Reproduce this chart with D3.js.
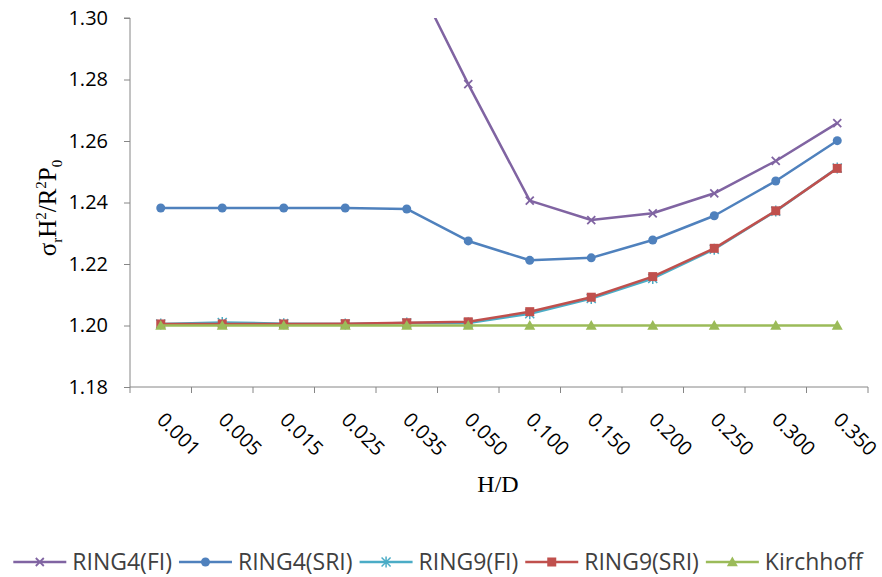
<!DOCTYPE html>
<html>
<head>
<meta charset="utf-8">
<script src="https://cdn.jsdelivr.net/npm/d3@7"></script>
<style>
  html, body { margin: 0; padding: 0; background: #fff; }
  svg { display: block; }
</style>
</head>
<body>
<svg id="chart" width="882" height="577"></svg>
<script>
const categories = ["0.001","0.005","0.015","0.025","0.035","0.050","0.100","0.150","0.200","0.250","0.300","0.350"];
const ring4FI   = [1.420, 1.390, 1.360, 1.340, 1.3185, 1.2785, 1.2406, 1.2343, 1.2365, 1.2430, 1.2535, 1.2658];
const ring4SRI  = [1.2382, 1.2382, 1.2382, 1.2382, 1.2379, 1.2275, 1.2212, 1.2220, 1.2278, 1.2357, 1.2470, 1.2601];
const ring9FI   = [1.2005, 1.2010, 1.2006, 1.2005, 1.2008, 1.2008, 1.2038, 1.2088, 1.2153, 1.2248, 1.2372, 1.2512];
const ring9SRI  = [1.2005, 1.2005, 1.2005, 1.2006, 1.2009, 1.2012, 1.2045, 1.2092, 1.2159, 1.2251, 1.2373, 1.2511];
const kirchhoff = [1.2, 1.2, 1.2, 1.2, 1.2, 1.2, 1.2, 1.2, 1.2, 1.2, 1.2, 1.2];
const yTicks = [1.18, 1.20, 1.22, 1.24, 1.26, 1.28, 1.30];
const seriesNames = ["RING4(FI)", "RING4(SRI)", "RING9(FI)", "RING9(SRI)", "Kirchhoff"];

(function () {
const series = [
  {name: seriesNames[0], values: ring4FI,   color: "#8064A2", marker: "x"},
  {name: seriesNames[1], values: ring4SRI,  color: "#4F81BD", marker: "circle"},
  {name: seriesNames[2], values: ring9FI,   color: "#4BACC6", marker: "star"},
  {name: seriesNames[3], values: ring9SRI,  color: "#C0504D", marker: "square"},
  {name: seriesNames[4], values: kirchhoff, color: "#9BBB59", marker: "triangle"}
];

const svg = d3.select("#chart");
const pLeft = 130, pRight = 868, pTop = 18, pBottom = 387;
const axisColor = "#868686";
const sans = "'Open Sans', sans-serif";
const serif = "'Liberation Serif', 'Times New Roman', serif";

const x = d3.scaleBand().domain(categories).range([pLeft, pRight]).paddingInner(0).paddingOuter(0);
const cx = c => x(c) + x.bandwidth() / 2;
const y = d3.scaleLinear().domain([1.18, 1.30]).range([pBottom, pTop]);

svg.append("defs").append("clipPath").attr("id", "plotclip")
  .append("rect").attr("x", pLeft).attr("y", pTop).attr("width", pRight - pLeft).attr("height", pBottom - pTop);

// Y axis
const yAxis = d3.axisLeft(y).tickValues(yTicks).tickFormat(d3.format(".2f")).tickSize(6).tickPadding(16);
const gy = svg.append("g").attr("transform", `translate(${pLeft},0)`).call(yAxis);
gy.select(".domain").attr("stroke", axisColor).attr("d", `M-6,${pTop}H0V${pBottom}`);
gy.selectAll(".tick line").attr("stroke", axisColor);
gy.selectAll(".tick text").attr("fill", "#000").style("font-family", sans).style("font-size", "20px");

// X axis
const gx = svg.append("g").attr("transform", `translate(0,${pBottom})`);
gx.append("line").attr("x1", pLeft).attr("x2", pRight).attr("y1", 0).attr("y2", 0).attr("stroke", axisColor);
const boundaries = categories.map(c => x(c)).concat([pRight]);
gx.selectAll("line.tk").data(boundaries).enter().append("line").attr("class", "tk")
  .attr("x1", d => d).attr("x2", d => d).attr("y1", 0).attr("y2", 6).attr("stroke", axisColor);
gx.selectAll("text.tl").data(categories).enter().append("text").attr("class", "tl")
  .attr("transform", d => `translate(${cx(d) - 5},${421 - pBottom}) rotate(45)`)
  .attr("text-anchor", "start")
  .attr("fill", "#000")
  .style("font-family", sans).style("font-size", "20px")
  .text(d => d);

// Axis titles
svg.append("text").attr("x", 498).attr("y", 492).attr("text-anchor", "middle")
  .style("font-family", serif).style("font-size", "24px").attr("fill", "#000")
  .text("H/D");

const yl = svg.append("text").attr("transform", "translate(56,208) rotate(-90)").attr("text-anchor", "middle")
  .style("font-family", serif).style("font-size", "25px").attr("fill", "#000");
yl.append("tspan").text("σ");
yl.append("tspan").attr("dy", 6).style("font-size", "15px").text("r");
yl.append("tspan").attr("dy", -6).text("H");
yl.append("tspan").attr("dy", -10).style("font-size", "15px").text("2");
yl.append("tspan").attr("dy", 10).text("/R");
yl.append("tspan").attr("dy", -10).style("font-size", "15px").text("2");
yl.append("tspan").attr("dy", 10).text("P");
yl.append("tspan").attr("dy", 6).style("font-size", "15px").text("0");

// Marker drawing
function drawMarker(g, type, color, px, py) {
  if (type === "x") {
    const s = 4;
    g.append("path").attr("d", `M${px - s},${py - s}L${px + s},${py + s}M${px - s},${py + s}L${px + s},${py - s}`)
      .attr("stroke", color).attr("stroke-width", 1.8).attr("fill", "none");
  } else if (type === "circle") {
    g.append("circle").attr("cx", px).attr("cy", py).attr("r", 4.5).attr("fill", color);
  } else if (type === "star") {
    const s = 4.5;
    g.append("path").attr("d", `M${px - s},${py - s}L${px + s},${py + s}M${px - s},${py + s}L${px + s},${py - s}M${px},${py - s - 1}L${px},${py + s + 1}`)
      .attr("stroke", color).attr("stroke-width", 1.5).attr("fill", "none");
  } else if (type === "square") {
    g.append("rect").attr("x", px - 4.5).attr("y", py - 4.5).attr("width", 9).attr("height", 9).attr("fill", color);
  } else if (type === "triangle") {
    const s = 5.5;
    g.append("path").attr("d", `M${px},${py - s}L${px + s},${py + s * 0.75}L${px - s},${py + s * 0.75}Z`).attr("fill", color);
  }
}

const plot = svg.append("g").attr("clip-path", "url(#plotclip)");
const line = d3.line().x((d, i) => cx(categories[i])).y(d => y(d));
series.forEach(s => {
  const g = plot.append("g");
  g.append("path").datum(s.values).attr("d", line).attr("fill", "none")
    .attr("stroke", s.color).attr("stroke-width", 2.5).attr("stroke-linejoin", "round");
  s.values.forEach((v, i) => drawMarker(g, s.marker, s.color, cx(categories[i]), y(v)));
});

// Legend
const lg = svg.append("g");
const ly = 562;
const lineLen = 53, gap1 = 6, gap2 = 7;
const items = series.map(s => {
  const t = lg.append("text").attr("y", ly).attr("dy", "0.35em")
    .style("font-family", sans).style("font-size", "23px").attr("fill", "#404040").text(s.name);
  return {s, t, w: t.node().getComputedTextLength()};
});
const total = d3.sum(items, d => lineLen + gap1 + d.w) + gap2 * (items.length - 1);
let xpos = 438 - total / 2;
items.forEach(d => {
  lg.append("line").attr("x1", xpos).attr("x2", xpos + lineLen).attr("y1", ly).attr("y2", ly)
    .attr("stroke", d.s.color).attr("stroke-width", 2.5);
  drawMarker(lg, d.s.marker, d.s.color, xpos + lineLen / 2, ly);
  d.t.attr("x", xpos + lineLen + gap1);
  xpos += lineLen + gap1 + d.w + gap2;
});
})();
</script>
</body>
</html>
